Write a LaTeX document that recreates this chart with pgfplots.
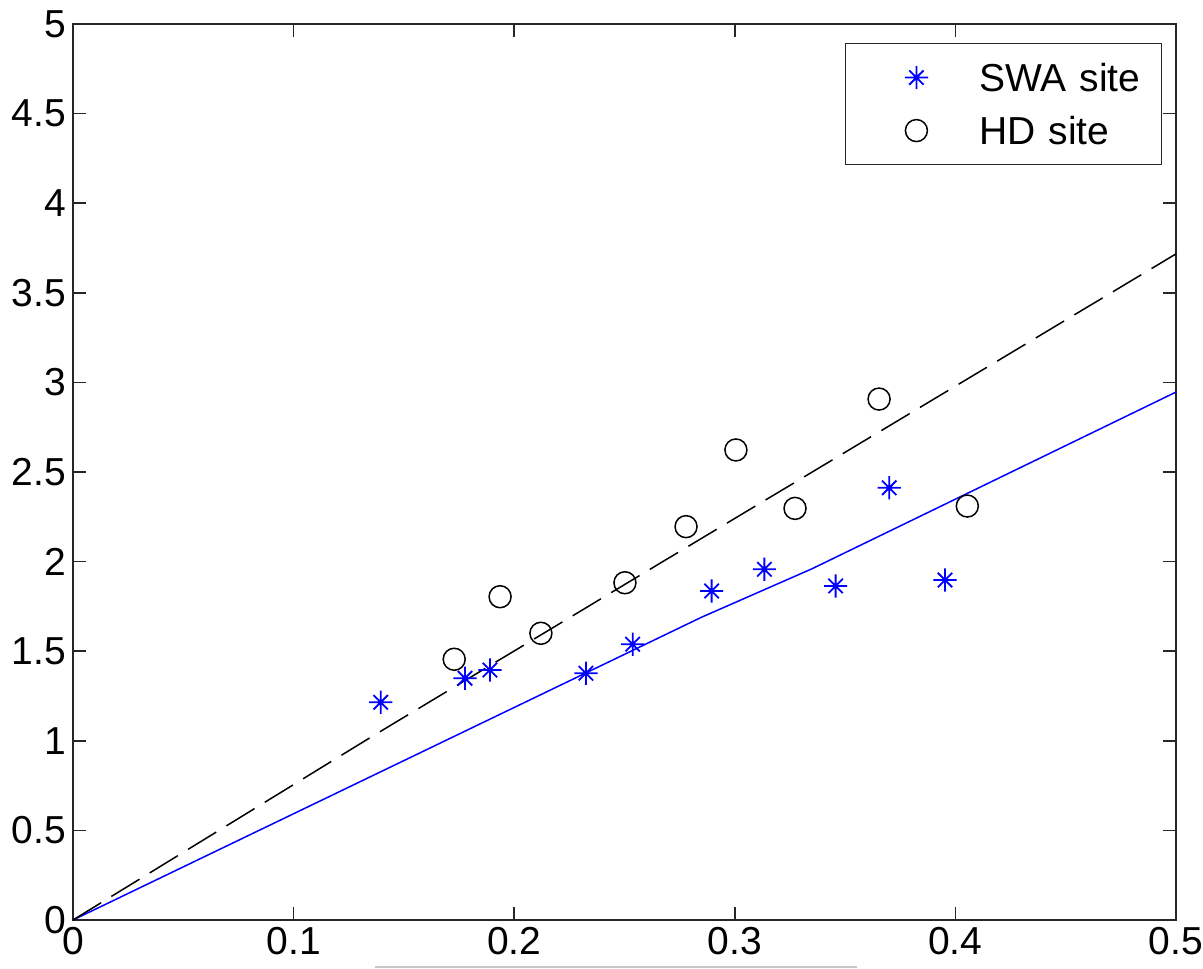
\documentclass[border=0pt]{standalone}
\usepackage{fontspec}
\setmainfont{Liberation Sans}
\usepackage{pgfplots}
\pgfplotsset{compat=1.18}
\usetikzlibrary{calc}
\pgfdeclareplotmark{mstar}{%
  \pgfpathmoveto{\pgfqpoint{-\pgfplotmarksize}{0pt}}\pgfpathlineto{\pgfqpoint{\pgfplotmarksize}{0pt}}%
  \pgfpathmoveto{\pgfqpoint{0pt}{-\pgfplotmarksize}}\pgfpathlineto{\pgfqpoint{0pt}{\pgfplotmarksize}}%
  \pgfpathmoveto{\pgfqpoint{-0.62\pgfplotmarksize}{-0.62\pgfplotmarksize}}\pgfpathlineto{\pgfqpoint{0.62\pgfplotmarksize}{0.62\pgfplotmarksize}}%
  \pgfpathmoveto{\pgfqpoint{-0.62\pgfplotmarksize}{0.62\pgfplotmarksize}}\pgfpathlineto{\pgfqpoint{0.62\pgfplotmarksize}{-0.62\pgfplotmarksize}}%
  \pgfusepathqstroke
  \pgfpathcircle{\pgfpointorigin}{0.22\pgfplotmarksize}\pgfusepathqfill
}
\pgfplotsset{mylegimg/.style={legend image code/.code={\path[draw=none,fill=none] (0pt,-7pt) rectangle (67pt,7pt); \draw[##1] plot coordinates {(35.5pt,0pt)};}}}
\pgfplotstableread{
x y
0.1395 1.215
0.1777 1.349
0.1890 1.395
0.2325 1.377
0.2537 1.539
0.2895 1.836
0.3134 1.957
0.3457 1.864
0.3700 2.412
0.3953 1.897
}\swa
\pgfplotstableread{
x y
0.1728 1.455
0.1936 1.804
0.2121 1.600
0.2502 1.882
0.2779 2.195
0.3005 2.623
0.3273 2.297
0.3654 2.907
0.4054 2.310
}\hd
\begin{document}
\begin{tikzpicture}
\begin{axis}[
  name=ax,
  at={(0,0)}, anchor=south west,
  scale only axis, width=551.5pt, height=448pt,
  xmin=0, xmax=0.5, ymin=0, ymax=5,
  xtick={0,0.1,0.2,0.3,0.4,0.5},
  xticklabels={0,0.1,0.2,0.3,0.4,0.5},
  ytick={0,0.5,1,1.5,2,2.5,3,3.5,4,4.5,5},
  yticklabels={0,0.5,1,1.5,2,2.5,3,3.5,4,4.5,5},
  tick align=inside, major tick length=6.5pt,
  axis line style={line width=0.75pt, black!85},
  every tick/.style={black!85, line width=0.75pt},
  tick label style={font=\fontsize{19.5}{20}\selectfont},
  /pgf/number format/assume math mode=true,
  legend cell align=left,
  legend style={at={(axis description cs:1,1)}, anchor=north east,
    xshift=-7pt, yshift=-9.5pt, draw=black!85, line width=0.6pt,
    inner xsep=0pt, inner ysep=10pt, row sep=12.5pt,
    font=\fontsize{19.5}{20}\selectfont,
    nodes={inner sep=0pt, text height=14pt, text depth=0pt},
    /tikz/every even column/.append style={text width=91pt}},
]
\addplot[blue, line width=0.75pt, forget plot] coordinates {(0,0) (0.285,1.69) (0.335,1.96) (0.5,2.946)};
\addplot[black, line width=0.75pt, dash pattern=on 16.5pt off 6pt, forget plot] coordinates {(0,0) (0.135,1.02) (0.266,1.99) (0.5,3.717)};
\addplot[only marks, mark=mstar, mark size=5.8pt, blue, line width=0.9pt, mylegimg] table {\swa};
\addlegendentry{SWA site}
\addplot[only marks, mark=o, mark size=5.5pt, black, line width=0.75pt, mylegimg] table {\hd};
\addlegendentry{HD site}
\end{axis}
\draw[black!22, line width=1pt] ($(ax.south west)+(151pt,-23.5pt)$) -- ($(ax.south west)+(392pt,-23.5pt)$);
\pgfresetboundingbox
\useasboundingbox ($(ax.south west)+(-36.5pt,-24pt)$) rectangle ($(ax.south west)+(565pt,460pt)$);
\end{tikzpicture}
\end{document}
